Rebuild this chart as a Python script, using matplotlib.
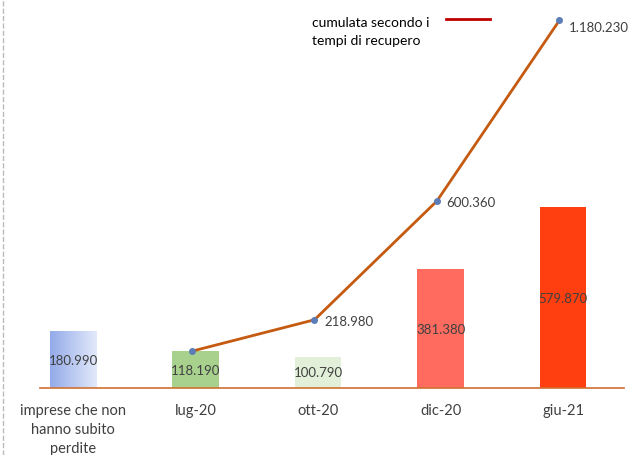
import matplotlib.pyplot as plt
import matplotlib.colors as mcolors
import numpy as np

categories = ['imprese che non\nhanno subito\nperdite', 'lug-20', 'ott-20', 'dic-20', 'giu-21']
bar_values = [180990, 118190, 100790, 381380, 579870]
bar_labels = ['180.990', '118.190', '100.790', '381.380', '579.870']
cum_values = [118190, 218980, 600360, 1180230]
cum_labels = ['', '218.980', '600.360', '1.180.230']
bar_colors = ['#A9BDF0', '#A9D18E', '#E2F0D9', '#FF6B5E', '#FF3F0F']

plt.rcParams['font.family'] = ['Lato', 'DejaVu Sans']

fig = plt.figure(figsize=(6.28, 4.56), dpi=100)
ax = fig.add_axes([0.064, 0.147, 0.93, 0.831])

x = np.arange(len(categories))
bars = ax.bar(x, bar_values, width=0.38, color=bar_colors, zorder=2)

# gradient fill for the first bar (blue to pale blue)
b0 = bars[0]
grad = np.linspace(0, 1, 100).reshape(1, -1)
cmap = mcolors.LinearSegmentedColormap.from_list('g', ['#94ABEA', '#E2E9FA'])
ax.imshow(grad, cmap=cmap, aspect='auto', zorder=2,
          extent=[b0.get_x(), b0.get_x() + b0.get_width(), 0, b0.get_height()])
b0.set_alpha(0)

for b, lab in zip(bars, bar_labels):
    ax.text(b.get_x() + b.get_width() / 2, b.get_height() / 2, lab,
            ha='center', va='center', fontsize=9.5, color='#404040', zorder=3)

# cumulative line
line_x = x[1:] - 0.03
ax.plot(line_x, cum_values, color='#C55A11', lw=2, zorder=4,
        marker='o', markersize=4, markerfacecolor='#5B7DB8',
        markeredgecolor='#5B7DB8')
for xi, v, lab in zip(line_x, cum_values, cum_labels):
    if lab:
        dy = -5 if v > 1e6 else -1
        ax.annotate(lab, (xi, v), xytext=(7, dy), textcoords='offset points',
                    ha='left', va='center', fontsize=9.5, color='#404040', zorder=5)

ax.set_xlim(-0.27, 4.5)
ax.set_ylim(0, 1217000)
ax.set_xticks(x)
ax.set_xticklabels(categories, fontsize=10.5, color='#404040', linespacing=1.45)
ax.tick_params(axis='x', length=0, pad=11)
ax.set_yticks([])
for s in ['top', 'right', 'left']:
    ax.spines[s].set_visible(False)
ax.spines['bottom'].set_color('#D0702F')
ax.spines['bottom'].set_linewidth(1.2)
ax.patch.set_alpha(0)

# legend, drawn by hand as in the original
fig.text(0.497, 0.962, 'cumulata secondo i\ntempi di recupero', fontsize=10,
         color='#000000', ha='left', va='top', linespacing=1.55)
fig.add_artist(plt.Line2D([0.71, 0.78], [0.956, 0.956], color='#C00000', lw=2))

# dashed border at the left edge
fig.add_artist(plt.Line2D([0.004, 0.004], [0, 1], color='#BBBBBB', lw=1, ls='--'))

fig.savefig('out.png', dpi=100)
